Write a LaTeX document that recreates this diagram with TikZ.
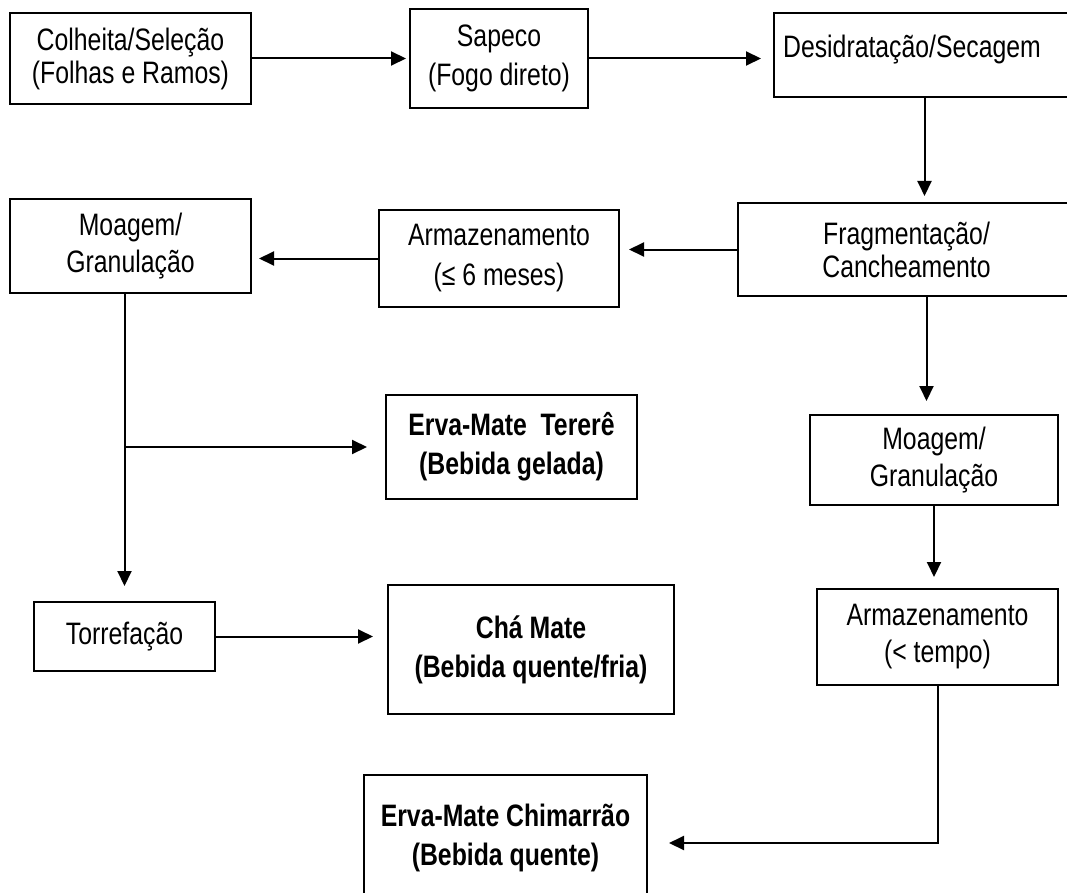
\documentclass[tikz,border=0pt]{standalone}
\usepackage{fontspec}
\setmainfont{Liberation Sans}[FakeStretch=0.8]
\usepackage{tikz}
\usetikzlibrary{arrows.meta, positioning}
\tikzset{
  procnode/.style={rectangle, draw=black, line width=2pt, inner sep=0pt,
    align=center, font=\fontsize{31}{37}\selectfont},
  prodnode/.style={procnode, font=\fontsize{31}{39}\selectfont\bfseries},
  flowarrow/.style={-{Triangle[length=15pt, width=14pt]}, line width=2pt,
    shorten >=#1},
  flowarrow/.default=8pt
}

\begin{document}
\begin{tikzpicture}[x=1pt, y=-1pt]
  \useasboundingbox (0,0) rectangle (1067,893);
  \clip (0,0) rectangle (1067,893);

  % Top row
  \node[procnode, minimum width=241pt, minimum height=91pt] (colheita) at (130.5,58.5)
    {Colheita/Seleção\\[-4pt](Folhas e Ramos)};
  \node[procnode, minimum width=178pt, minimum height=99pt] (sapeco) at (499,58.5)
    {Sapeco\\[2pt](Fogo direto)};
  \node[procnode, minimum width=301pt, minimum height=84pt, text depth=18pt] (desid) at (924.5,55)
    {Desidratação/Secagem\hspace{25pt}};

  % Second row
  \node[procnode, minimum width=337pt, minimum height=93pt] (frag) at (906.5,249.5)
    {Fragmentação/\\[-4pt]Cancheamento};
  \node[procnode, minimum width=240pt, minimum height=97pt] (arm1) at (499,258.5)
    {Armazenamento\\[3pt](≤ 6 meses)};
  \node[procnode, minimum width=241pt, minimum height=94pt] (moag1) at (130.5,246)
    {Moagem/\\Granulação};

  % Left branch
  \node[prodnode, minimum width=251pt, minimum height=104pt] (tere) at (511.5,447)
    {Erva-Mate\ \ Tererê\\(Bebida gelada)};
  \node[procnode, minimum width=181pt, minimum height=69pt] (torr) at (124.5,636.5)
    {Torrefação};
  \node[prodnode, minimum width=286pt, minimum height=129pt] (cha) at (531,649.5)
    {Chá Mate\\(Bebida quente/fria)};

  % Right branch
  \node[procnode, minimum width=248pt, minimum height=90pt] (moag2) at (934,460)
    {Moagem/\\Granulação};
  \node[procnode, minimum width=241pt, minimum height=96pt] (arm2) at (937.5,637)
    {Armazenamento\\(< tempo)};
  \node[prodnode, minimum width=283pt, minimum height=125pt] (chim) at (505.5,837.5)
    {Erva-Mate Chimarrão\\(Bebida quente)};

  % Flow
  \draw[flowarrow=3pt] (colheita.east) -- (sapeco.west);
  \draw[flowarrow=12pt] (sapeco.east) -- (sapeco.east -| desid.west);
  \draw[flowarrow=6pt] (desid.south) -- (desid.south |- frag.north);
  \draw[flowarrow=9pt] (frag.west) -- (frag.west -| arm1.east);
  \draw[flowarrow=7pt] (arm1.west) -- (arm1.west -| moag1.east);
  \coordinate (branch) at (torr.north |- tere.west);
  \draw[flowarrow=15pt] (torr.north |- moag1.south) -- (torr.north);
  \draw[flowarrow=18pt] (branch) -- (tere.west);
  \draw[flowarrow=14pt] (torr.east) -- (torr.east -| cha.west);
  \draw[flowarrow=13pt] ([xshift=20pt]frag.south) -- ([xshift=20pt]frag.south |- moag2.north);
  \draw[flowarrow=11pt] (moag2.south) -- (moag2.south |- arm2.north);
  \draw[flowarrow=21pt] (arm2.south) |- ([yshift=-5.5pt]chim.east);
\end{tikzpicture}
\end{document}
